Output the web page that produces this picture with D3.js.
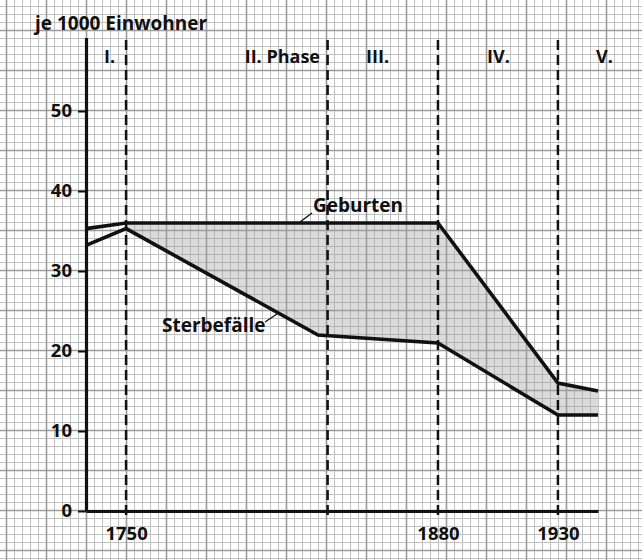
<!DOCTYPE html>
<html>
<head>
<meta charset="utf-8">
<script src="https://cdn.jsdelivr.net/npm/d3@7"></script>
<style>
  body { margin: 0; background: #fff; }
  svg text { font-family: "Open Sans", sans-serif; font-weight: 700; fill: #111; }
</style>
</head>
<body>
<svg id="chart" width="642" height="560"></svg>
<script>
// data
var geburtenYears = [1733.3, 1750, 1880, 1930, 1946.7];
var geburtenValues = [35.3, 36, 36, 16, 15];
var sterbeYears = [1733.3, 1750, 1830, 1880, 1930, 1946.7];
var sterbeValues = [33.2, 35.3, 22, 21, 12, 12];
var phaseBounds = [1750, 1834, 1880, 1930];
var phaseNames = ['I.', 'II. Phase', 'III.', 'IV.', 'V.'];
var yTicks = [0, 10, 20, 30, 40, 50];
var xTicks = [1750, 1880, 1930];

var svg = d3.select('#chart');
var W = 642, H = 560;

// graph paper
var grid = svg.append('g');
var minorX = d3.range(6, W, 8), minorY = d3.range(6, H, 8);
grid.selectAll('.vmin').data(minorX).enter().append('line')
	.attr('x1', function(d){ return d + .5; }).attr('x2', function(d){ return d + .5; })
	.attr('y1', 0).attr('y2', H)
	.attr('stroke', '#c2c2c2').attr('stroke-width', 1);
grid.selectAll('.hmin').data(minorY).enter().append('line')
	.attr('y1', function(d){ return d + .5; }).attr('y2', function(d){ return d + .5; })
	.attr('x1', 0).attr('x2', W)
	.attr('stroke', '#c2c2c2').attr('stroke-width', 1);
grid.selectAll('.vmaj').data(d3.range(6, W, 40)).enter().append('line')
	.attr('x1', function(d){ return d + .5; }).attr('x2', function(d){ return d + .5; })
	.attr('y1', 0).attr('y2', H)
	.attr('stroke', '#9c9c9c').attr('stroke-width', 1.6);
grid.selectAll('.hmaj').data(d3.range(30, H, 40)).enter().append('line')
	.attr('y1', function(d){ return d + .5; }).attr('y2', function(d){ return d + .5; })
	.attr('x1', 0).attr('x2', W)
	.attr('stroke', '#9c9c9c').attr('stroke-width', 1.6);

var x = d3.scaleLinear().domain([1733.3, 1946.7]).range([86, 598]);
var y = d3.scaleLinear().domain([0, 59.2]).range([511, 37.4]);

var geb = geburtenYears.map(function(d, i){ return [d, geburtenValues[i]]; });
var ster = sterbeYears.map(function(d, i){ return [d, sterbeValues[i]]; });

// shaded gap from 1750 on
var gebAt = d3.scaleLinear().domain(geburtenYears).range(geburtenValues);
var sterAt = d3.scaleLinear().domain(sterbeYears).range(sterbeValues);
var bandYears = Array.from(new Set(d3.merge([geburtenYears, sterbeYears])))
	.filter(function(d){ return d >= 1750; }).sort(d3.ascending);
var area = d3.area()
	.x(function(d){ return x(d); })
	.y0(function(d){ return y(sterAt(d)); })
	.y1(function(d){ return y(gebAt(d)); });
svg.append('path')
	.datum(bandYears)
	.attr('d', area)
	.attr('fill', '#a0a0a0')
	.attr('fill-opacity', 0.38);

// phase dividers
svg.selectAll('.phase').data(phaseBounds).enter().append('line')
	.attr('x1', function(d){ return x(d); }).attr('x2', function(d){ return x(d); })
	.attr('y1', 40).attr('y2', 519)
	.attr('stroke', '#111').attr('stroke-width', 2.5)
	.attr('stroke-dasharray', '10,5');

// axes
var yAxis = svg.append('g')
	.attr('transform', 'translate(86,0)')
	.call(d3.axisLeft(y).tickValues(yTicks).tickSize(8).tickSizeOuter(0).tickPadding(6));
var xAxis = svg.append('g')
	.attr('transform', 'translate(0,511)')
	.call(d3.axisBottom(x).tickValues(xTicks).tickFormat(d3.format('d')).tickSize(0).tickSizeOuter(0).tickPadding(16));
[yAxis, xAxis].forEach(function(g){
	g.select('.domain').attr('stroke', '#111').attr('stroke-width', 3.2);
	g.selectAll('.tick line').attr('stroke', '#111').attr('stroke-width', 2);
	g.selectAll('.tick text').attr('font-size', 18.5).attr('font-family', '"Open Sans", sans-serif')
		.attr('font-weight', 700).attr('fill', '#111');
});

// lines
var line = d3.line().x(function(d){ return x(d[0]); }).y(function(d){ return y(d[1]); });
[geb, ster].forEach(function(s){
	svg.append('path').datum(s).attr('d', line)
		.attr('fill', 'none').attr('stroke', '#111').attr('stroke-width', 3.6)
		.attr('stroke-linejoin', 'miter');
});

// labels
svg.append('text').attr('x', 35).attr('y', 30).attr('font-size', 19).text('je 1000 Einwohner');

var phaseX = [104, 320, 366, 487, 596];
var phaseAnchor = ['start', 'end', 'start', 'start', 'start'];
svg.selectAll('.pname').data(phaseNames).enter().append('text')
	.attr('x', function(d, i){ return phaseX[i]; })
	.attr('text-anchor', function(d, i){ return phaseAnchor[i]; })
	.attr('y', 63).attr('font-size', 18)
	.text(function(d){ return d; });

svg.append('text').attr('x', 313).attr('y', 212).attr('font-size', 19).text('Geburten');
svg.append('line').attr('x1', 300).attr('y1', 222).attr('x2', 312).attr('y2', 213)
	.attr('stroke', '#111').attr('stroke-width', 1.4);
svg.append('text').attr('x', 162).attr('y', 332).attr('font-size', 19).text('Sterbefälle');
svg.append('line').attr('x1', 265).attr('y1', 322).attr('x2', 277).attr('y2', 314)
	.attr('stroke', '#111').attr('stroke-width', 1.4);
</script>
</body>
</html>
